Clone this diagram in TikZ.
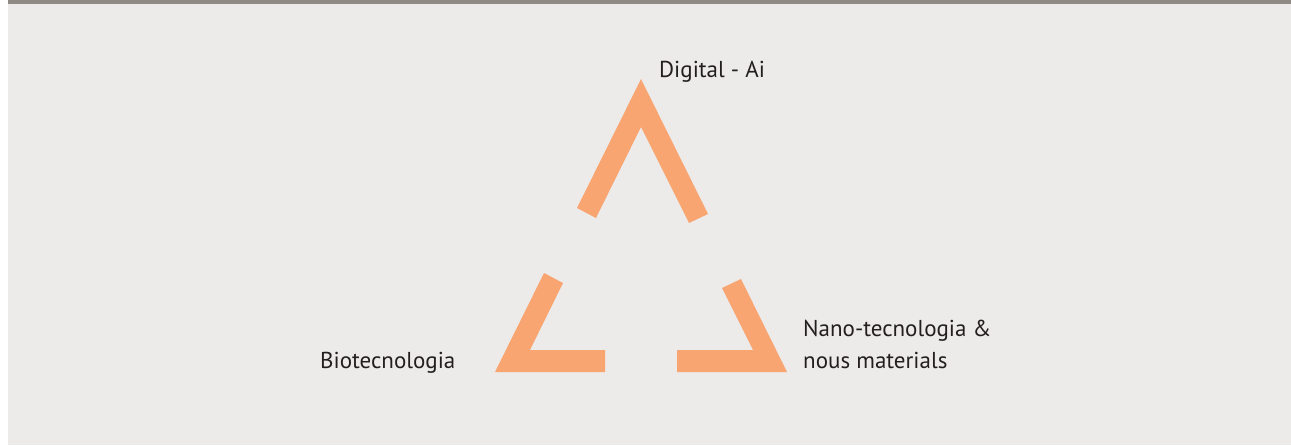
\documentclass[tikz,border=0pt]{standalone}
\usepackage{fontspec}
\setmainfont{PT Sans}
\definecolor{panel}{HTML}{ECEBE9}
\definecolor{topbar}{HTML}{8F8A83}
\definecolor{accent}{HTML}{F8A572}
\definecolor{ink}{HTML}{231F20}
\begin{document}
\begin{tikzpicture}[x=1pt,y=-1pt,
  shard/.style={fill=accent,draw=none},
  label/.style={anchor=base west,inner sep=0pt,text=ink,font=\fontsize{23}{32}\selectfont}]
\useasboundingbox (0,0) rectangle (1291,445);
\fill[white] (0,0) rectangle (1291,445);
\fill[panel] (8,0) rectangle (1291,445);
\fill[topbar] (8,0) rectangle (1291,4);
% three corner pieces of the broken triangle
\fill[shard] (577,208) -- (641,79) -- (708,214) -- (689,223) -- (641,127) -- (596,218) -- cycle;
\fill[shard] (544,273) -- (563,283) -- (530,350) -- (605,350) -- (605,372) -- (495,372) -- cycle;
\fill[shard] (677,350) -- (753,350) -- (722,288) -- (741,279) -- (787,372) -- (677,372) -- cycle;
% labels
\node[label] (dig) at (659,77) {Digital - Ai};
\node[label] (bio) at (320,368) {Biotecnologia};
\node[label] (nano) at (803,336) {Nano-tecnologia \&};
\node[label] (nous) at (803,368) {nous materials};
\end{tikzpicture}
\end{document}
